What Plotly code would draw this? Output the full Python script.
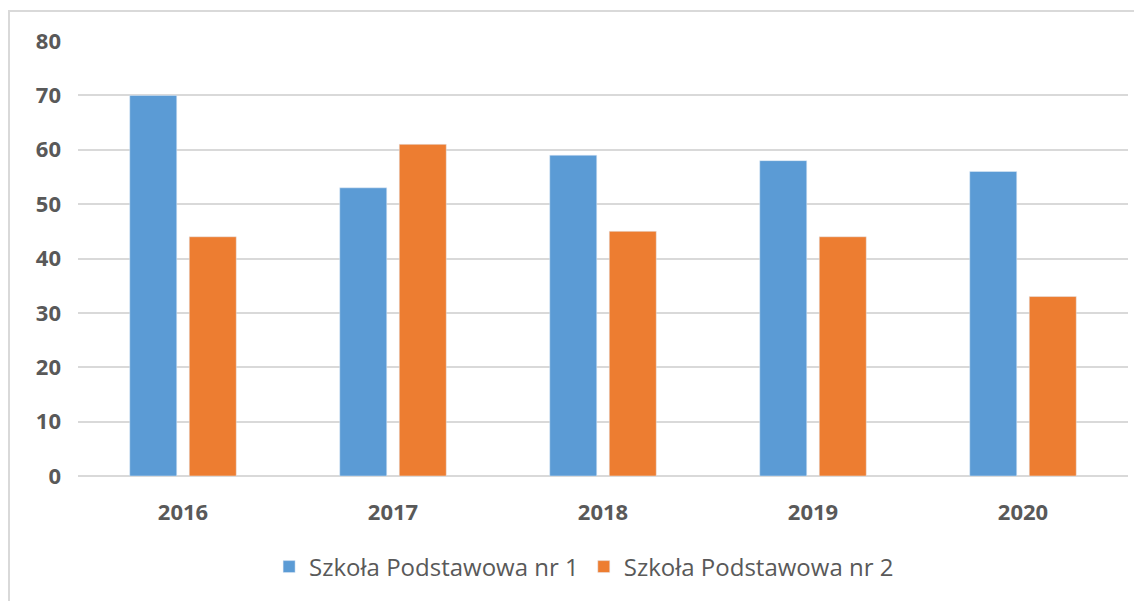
import plotly.graph_objects as go

years = ["2016", "2017", "2018", "2019", "2020"]
school1 = [70, 53, 59, 58, 56]
school2 = [44, 61, 45, 44, 33]
names = ["Szkoła Podstawowa nr 1", "Szkoła Podstawowa nr 2"]

fig = go.Figure()
fig.add_trace(go.Bar(x=years, y=school1, name=names[0], marker_color="#5B9BD5"))
fig.add_trace(go.Bar(x=years, y=school2, name=names[1], marker_color="#ED7D31"))

font_fam = "Open Sans, Liberation Sans, sans-serif"
W, H = 1142, 601
L, R, T, B = 70, 22, 33, 133
pw, ph = W - L - R, H - T - B
fig.update_layout(
    width=W, height=H,
    margin=dict(l=L, r=R, t=T, b=B),
    paper_bgcolor="white", plot_bgcolor="white",
    barmode="group", bargap=0.433, bargroupgap=0.21,
    font=dict(family=font_fam, color="#595959"),
    showlegend=True,
    legend=dict(orientation="h", x=0.482, xanchor="center", y=-(567 - 476) / ph, yanchor="middle",
                font=dict(size=24, color="#595959"), itemwidth=30, traceorder="normal"),
    shapes=[dict(type="rect", xref="paper", yref="paper",
                 x0=(1 - L) / pw, x1=(W + 20 - L) / pw,
                 y0=-(B + 20) / ph, y1=(T - 3 + ph) / ph,
                 line=dict(color="#D9D9D9", width=2),
                 fillcolor="rgba(0,0,0,0)", layer="below")],
)
fig.update_xaxes(showgrid=False, showline=False, ticks="",
                 tickfont=dict(size=22, family=font_fam, color="#595959", weight="bold"),
                 ticklabelstandoff=21)
fig.update_yaxes(range=[0, 80], dtick=10, showgrid=True, gridcolor="#D9D9D9", gridwidth=1.5,
                 zeroline=True, zerolinecolor="#D9D9D9", zerolinewidth=1.5, showline=False,
                 tickfont=dict(size=22, family=font_fam, color="#595959", weight="bold"),
                 ticklabelstandoff=16)

fig.write_html("out.html")
